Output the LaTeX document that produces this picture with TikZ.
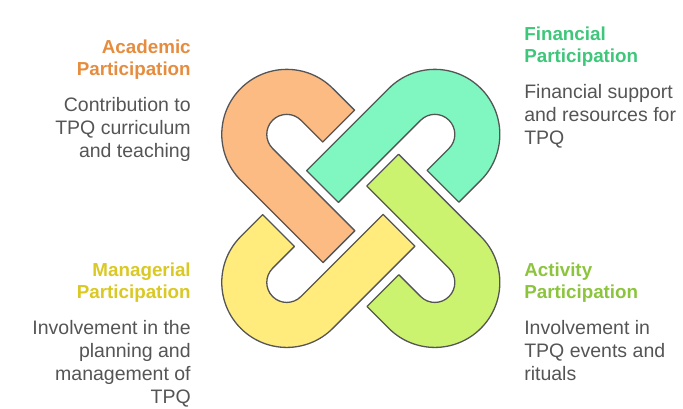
\documentclass[tikz,border=0pt]{standalone}
\usepackage{fontspec}
\setmainfont{Liberation Sans}
\usetikzlibrary{positioning}

\definecolor{outline}{RGB}{85,85,85}
\definecolor{txtgray}{RGB}{85,85,85}
\definecolor{acadfill}{RGB}{253,187,132}
\definecolor{finfill}{RGB}{128,247,192}
\definecolor{actfill}{RGB}{203,243,112}
\definecolor{manfill}{RGB}{255,236,125}
\definecolor{acadtxt}{RGB}{230,140,62}
\definecolor{fintxt}{RGB}{62,198,122}
\definecolor{acttxt}{RGB}{140,196,62}
\definecolor{mantxt}{RGB}{218,200,36}

\begin{document}
\begin{tikzpicture}[x=1pt,y=1pt,band/.style={draw=outline,line width=1.3pt,line join=round},head/.style={font=\fontsize{18.8}{22.5}\selectfont\bfseries,inner sep=0pt,outer sep=0pt},body/.style={font=\fontsize{19.5}{22.8}\selectfont,text=txtgray,inner sep=0pt,outer sep=0pt,node distance=18pt}]
        \useasboundingbox (0,0) rectangle (683,409);
        \coordinate (o) at (360.8,200.6);
        %
        % the four hooks, each one turned a quarter further
        \begin{scope}[shift={(o)},rotate=-45]
        \draw[band,fill=acadfill] (11.6,-65) -- (11.6,-20) -- (-104.7,-20)
        arc[start angle=-90,end angle=-270,radius=20] -- (-73.8,20) -- (-73.8,65) -- (-104.7,65)
        arc[start angle=90,end angle=270,radius=65] -- cycle;
        \end{scope}
        \begin{scope}[shift={(o)},rotate=-135]
        \draw[band,fill=finfill] (11.6,-65) -- (11.6,-20) -- (-104.7,-20)
        arc[start angle=-90,end angle=-270,radius=20] -- (-73.8,20) -- (-73.8,65) -- (-104.7,65)
        arc[start angle=90,end angle=270,radius=65] -- cycle;
        \end{scope}
        \begin{scope}[shift={(o)},rotate=135]
        \draw[band,fill=actfill] (11.6,-65) -- (11.6,-20) -- (-104.7,-20)
        arc[start angle=-90,end angle=-270,radius=20] -- (-73.8,20) -- (-73.8,65) -- (-104.7,65)
        arc[start angle=90,end angle=270,radius=65] -- cycle;
        \end{scope}
        \begin{scope}[shift={(o)},rotate=45]
        \draw[band,fill=manfill] (11.6,-65) -- (11.6,-20) -- (-104.7,-20)
        arc[start angle=-90,end angle=-270,radius=20] -- (-73.8,20) -- (-73.8,65) -- (-104.7,65)
        arc[start angle=90,end angle=270,radius=65] -- cycle;
        \end{scope}
        %
        % labels
        \node[head,text=acadtxt,align=right,anchor=north east](acadhead) at (190.7,369.2){Academic\\Participation};
        \node[body,align=right,below=of acadhead.south east,anchor=north east](acadbody){Contribution to\\TPQ curriculum\\and teaching};
        %
        \node[head,text=fintxt,align=left,anchor=north west](finhead) at (524.3,382.5){Financial\\Participation};
        \node[body,align=left,below=of finhead.south west,anchor=north west](finbody){Financial support\\and resources for\\TPQ};
        %
        \node[head,text=mantxt,align=right,anchor=north east](manhead) at (190.7,146.5){Managerial\\Participation};
        \node[body,align=right,below=of manhead.south east,anchor=north east](manbody){Involvement in the\\planning and\\management of\\TPQ};
        %
        \node[head,text=acttxt,align=left,anchor=north west](acthead) at (524.3,146.5){Activity\\Participation};
        \node[body,align=left,below=of acthead.south west,anchor=north west](actbody){Involvement in\\TPQ events and\\rituals};
\end{tikzpicture}
\end{document}
